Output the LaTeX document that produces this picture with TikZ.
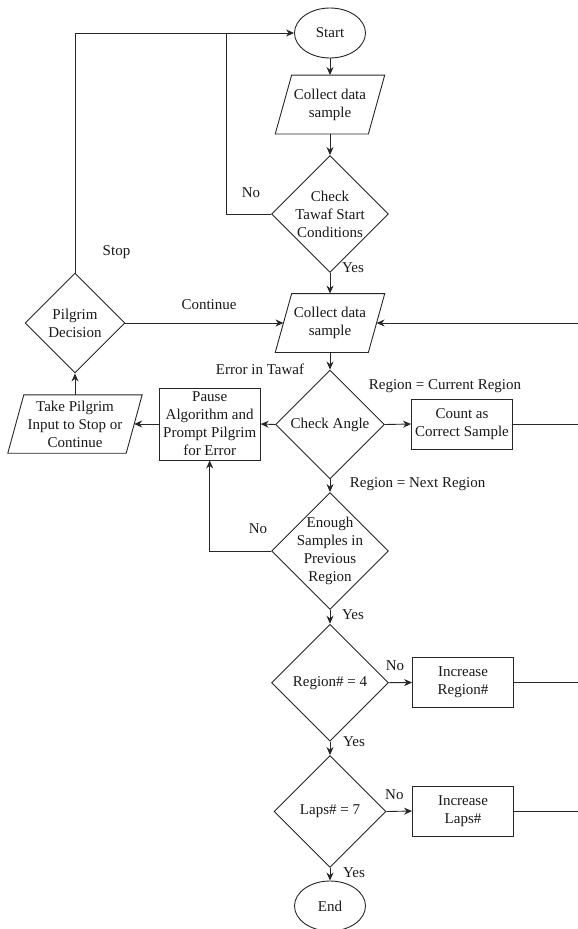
\documentclass[tikz,border=0pt]{standalone}
\usepackage{fontspec}
\setmainfont{Liberation Serif}
\usetikzlibrary{shapes.geometric,arrows.meta}

% draws the slanted outline of a data (input/output) box around a plain node
\newcommand\slantframe[2]{%
  \draw[line] ([xshift=#2]#1.north west) -- ([xshift=#2]#1.north east)
    -- ([xshift=-#2]#1.south east) -- ([xshift=-#2]#1.south west) -- cycle;}

\begin{document}
\begin{tikzpicture}[x=1pt,y=-1pt,
  every node/.style={font=\fontsize{15}{18}\selectfont, text=black!90},
  line/.style={draw=black!85, line width=0.9pt},
  arrow/.style={line, -{Stealth[length=8pt,width=7pt]}},
  terminal/.style={ellipse, line, minimum width=71, minimum height=50, inner sep=0},
  process/.style={rectangle, line, minimum width=101, minimum height=50, inner sep=1, align=center},
  data/.style={rectangle, minimum height=58.5, inner sep=0, align=center},
  decision/.style={diamond, line, inner sep=0, minimum width=#1, minimum height=#1},
  lbl/.style={inner sep=0}
]
\useasboundingbox (0,0) rectangle (578,929);

% main column
\node[terminal] (start) at (330,33) {Start};
\node[data, minimum width=92.7] (c1) at (330,104.5) {Collect data\\sample};
\slantframe{c1}{8.2}
\node[decision=117, label={[align=center]center:Check\\Tawaf Start\\Conditions}] (d1) at (330,214) {};
\node[data, minimum width=92.7] (c2) at (330,323) {Collect data\\sample};
\slantframe{c2}{8.2}
\node[decision=109, label={center:Check Angle}] (ca) at (330,424.5) {};
\node[decision=117, label={[align=center]center:Enough\\Samples in\\Previous\\Region}] (en) at (330,551) {};
\node[decision=117, label={center:Region\# = 4}] (rg) at (330,682.7) {};
\node[decision=112, label={center:Laps\# = 7}] (lp) at (330,811.5) {};
\node[terminal] (end) at (330,906) {End};

% side boxes
\node[process] (count) at (462,424) {Count as\\Correct Sample};
\node[process, minimum height=72] (pause) at (209.7,424) {Pause\\Algorithm and\\Prompt Pilgrim\\for Error};
\node[data, minimum width=118, minimum height=58] (take) at (75,424) {Take Pilgrim\\Input to Stop or\\Continue};
\slantframe{take}{8}
\node[decision=100, label={[align=center]center:Pilgrim\\Decision}] (pd) at (75,323) {};
\node[process] (incr) at (463,682.5) {Increase\\Region\#};
\node[process] (incl) at (463,811) {Increase\\Laps\#};

% loose ends leaving the right edge
\coordinate (rin) at (578,323);
\coordinate (rcount) at (578,424);
\coordinate (rincr) at (578,682.5);
\coordinate (rincl) at (578,811);
\coordinate (jn) at (226,33);

% connectors
\draw[arrow] (start) -- (c1);
\draw[arrow] (c1) -- (d1);
\draw[line] (d1.west) -| (jn);
\draw[arrow] (pd.north) |- (start.west);
\draw[arrow] (d1) -- (c2);
\draw[arrow] (pd.east) -- (c2.west);
\draw[arrow] (rin) -- (c2.east);
\draw[arrow] (c2) -- (ca);
\draw[arrow] (ca.east) -- (count.west);
\draw[line] (count.east) -- (rcount);
\draw[arrow] (ca.west) -- (pause.east);
\draw[arrow] (pause.west) -- (take.east);
\draw[arrow] (take.north) -- (pd.south);
\draw[arrow] (ca) -- (en);
\draw[arrow] (en.west) -| (pause.south);
\draw[arrow] (en) -- (rg);
\draw[arrow] (rg.east) -- (incr.west);
\draw[line] (incr.east) -- (rincr);
\draw[arrow] (rg) -- (lp);
\draw[arrow] (lp.east) -- (incl.west);
\draw[line] (incl.east) -- (rincl);
\draw[arrow] (lp) -- (end);

% connector labels
\node[lbl] (tStop) at (116.5,252) {Stop};
\node[lbl] (tNo1) at (251,193) {No};
\node[lbl] (tYes1) at (353,268) {Yes};
\node[lbl] (tCont) at (209,305) {Continue};
\node[lbl] (tErr) at (260,369) {Error in Tawaf};
\node[lbl] (tCur) at (445,386) {Region = Current Region};
\node[lbl] (tNext) at (417.6,484) {Region = Next Region};
\node[lbl] (tNo2) at (258,529) {No};
\node[lbl] (tYes2) at (353,615) {Yes};
\node[lbl] (tNo3) at (395,665.7) {No};
\node[lbl] (tYes3) at (354,741.7) {Yes};
\node[lbl] (tNo4) at (394.4,794.3) {No};
\node[lbl] (tYes4) at (354,872.3) {Yes};
\end{tikzpicture}
\end{document}
